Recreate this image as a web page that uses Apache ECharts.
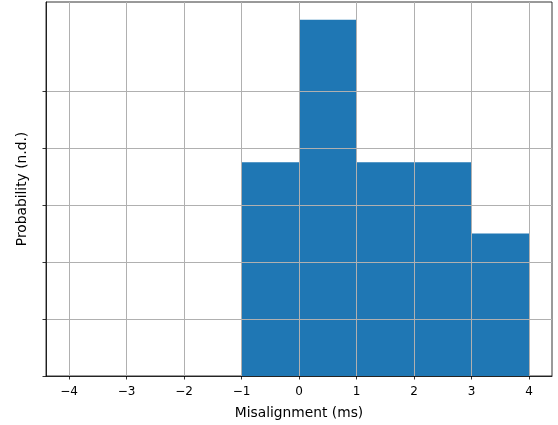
<!DOCTYPE html>
<html>
<head>
<meta charset="utf-8">
<script src="https://cdn.jsdelivr.net/npm/echarts@6/dist/echarts.min.js"></script>
<style>html,body{margin:0;padding:0;background:#fff}#c{width:558px;height:425px}</style>
</head>
<body>
<div id="c"></div>
<script>
// Histogram bin edges (ms) and normalised densities
const binEdges = [-4, -3, -2, -1, 0, 1, 2, 3, 4];
const densities = [0, 0, 0, 0.1875, 0.3125, 0.1875, 0.1875, 0.125];
const xTicks = [-4, -3, -2, -1, 0, 1, 2, 3, 4];
const yTicks = [0, 0.05, 0.1, 0.15, 0.2, 0.25];
const xLabel = 'Misalignment (ms)';
const yLabel = 'Probability (n.d.)';

const data = densities.map((d, i) => [binEdges[i], binEdges[i + 1], d]);

const chart = echarts.init(document.getElementById('c'), null, {renderer: 'canvas'});
const font = 'DejaVu Sans';
chart.setOption({
  animation: false,
  grid: {left: 46, right: 6, top: 2, bottom: 47, show: true, borderColor: '#000', borderWidth: 0.8, backgroundColor: 'transparent'},
  xAxis: {
    type: 'value', min: -4.4, max: 4.4, z: 5,
    name: xLabel, nameLocation: 'middle', nameGap: 30,
    nameTextStyle: {fontFamily: font, fontSize: 13.8, color: '#000'},
    axisLine: {show: true, onZero: false, lineStyle: {color: '#000', width: 0.8}},
    axisTick: {show: true, length: 3.5, lineStyle: {color: '#000', width: 0.8}, customValues: xTicks},
    axisLabel: {fontFamily: font, fontSize: 12, color: '#000', margin: 10, customValues: xTicks,
      formatter: v => String(v).replace('-', '\u2212')},
    splitLine: {show: true, lineStyle: {color: '#b0b0b0', width: 1}}
  },
  yAxis: {
    type: 'value', min: 0, max: 0.328125, z: 5,
    name: yLabel, nameLocation: 'middle', nameGap: 17,
    nameTextStyle: {fontFamily: font, fontSize: 13.8, color: '#000'},
    axisLine: {show: true, onZero: false, lineStyle: {color: '#000', width: 0.8}},
    axisTick: {show: true, length: 3.5, lineStyle: {color: '#000', width: 0.8}, customValues: yTicks},
    axisLabel: {show: false, customValues: yTicks},
    splitLine: {show: true, lineStyle: {color: '#b0b0b0', width: 1}}
  },
  series: [{
    type: 'custom', z: 1,
    data: data,
    encode: {x: [0, 1], y: 2},
    renderItem: (params, api) => {
      const x0 = api.value(0), x1 = api.value(1), h = api.value(2);
      if (!h) return null;
      const p0 = api.coord([x0, h]), p1 = api.coord([x1, 0]);
      return {type: 'rect', shape: {x: p0[0], y: p0[1], width: p1[0] - p0[0], height: p1[1] - p0[1]},
        style: {fill: '#1f77b4'}};
    }
  }]
});
</script>
</body>
</html>
